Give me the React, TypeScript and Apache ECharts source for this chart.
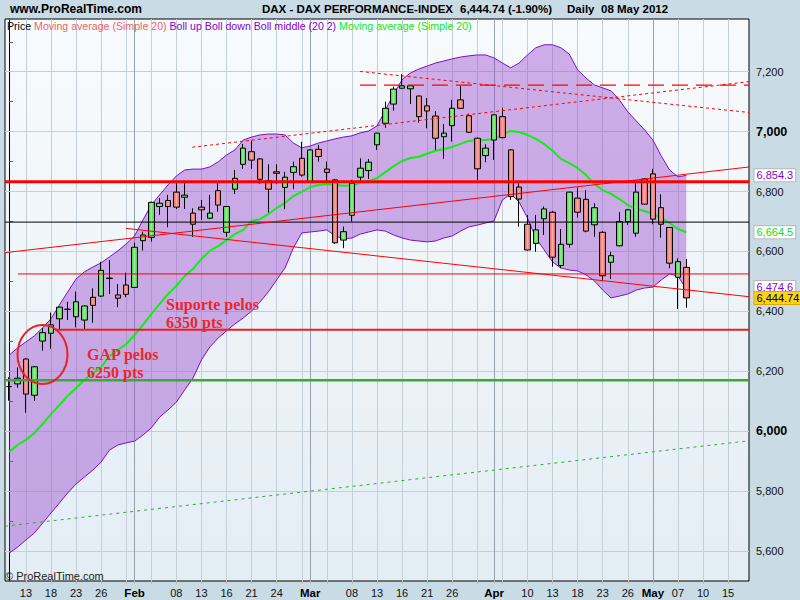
import React, { useEffect, useRef } from "react";
import * as echarts from "echarts";

// ---------- DATA ----------
const dates = [
  "2012-01-11","2012-01-12","2012-01-13","2012-01-16","2012-01-17","2012-01-18","2012-01-19","2012-01-20","2012-01-23","2012-01-24","2012-01-25","2012-01-26","2012-01-27","2012-01-30","2012-01-31",
  "2012-02-01","2012-02-02","2012-02-03","2012-02-06","2012-02-07","2012-02-08","2012-02-09","2012-02-10","2012-02-13","2012-02-14","2012-02-15","2012-02-16","2012-02-17","2012-02-20","2012-02-21","2012-02-22","2012-02-23","2012-02-24","2012-02-27","2012-02-28","2012-02-29",
  "2012-03-01","2012-03-02","2012-03-05","2012-03-06","2012-03-07","2012-03-08","2012-03-09","2012-03-12","2012-03-13","2012-03-14","2012-03-15","2012-03-16","2012-03-19","2012-03-20","2012-03-21","2012-03-22","2012-03-23","2012-03-26","2012-03-27","2012-03-28","2012-03-29","2012-03-30",
  "2012-04-02","2012-04-03","2012-04-04","2012-04-05","2012-04-10","2012-04-11","2012-04-12","2012-04-13","2012-04-16","2012-04-17","2012-04-18","2012-04-19","2012-04-20","2012-04-23","2012-04-24","2012-04-25","2012-04-26","2012-04-27","2012-04-30",
  "2012-05-02","2012-05-03","2012-05-04","2012-05-07","2012-05-08","2012-05-09","2012-05-10","2012-05-11","2012-05-14","2012-05-15","2012-05-16","2012-05-17"
];

// [open, close, low, high]
const candles = [
  [6149, 6149, 6102, 6180],[6158, 6177, 6145, 6213],[6241, 6124, 6062, 6243],[6120, 6215, 6101, 6218],[6301, 6329, 6269, 6344],
  [6327, 6355, 6275, 6396],[6375, 6414, 6338, 6416],[6407, 6407, 6371, 6432],[6382, 6432, 6347, 6466],[6371, 6418, 6340, 6420],
  [6447, 6420, 6362, 6477],[6451, 6537, 6448, 6566],[6511, 6510, 6458, 6572],[6455, 6444, 6414, 6491],[6488, 6457, 6447, 6529],
  [6480, 6614, 6478, 6629],[6636, 6655, 6603, 6666],[6647, 6764, 6633, 6766],[6750, 6761, 6722, 6778],[6770, 6750, 6681, 6789],
  [6798, 6748, 6742, 6828],[6781, 6788, 6742, 6829],[6728, 6691, 6649, 6744],[6748, 6739, 6705, 6772],[6711, 6728, 6708, 6789],
  [6803, 6755, 6733, 6828],[6664, 6750, 6649, 6752],[6808, 6844, 6792, 6872],[6891, 6945, 6876, 6959],[6933, 6905, 6876, 6970],
  [6909, 6841, 6825, 6912],[6836, 6808, 6730, 6891],[6866, 6861, 6825, 6891],[6814, 6848, 6741, 6866],[6864, 6883, 6808, 6900],
  [6911, 6855, 6850, 6966],[6833, 6939, 6830, 6941],[6941, 6917, 6900, 6956],[6875, 6864, 6833, 6900],[6839, 6629, 6625, 6842],
  [6638, 6666, 6611, 6683],[6721, 6828, 6700, 6839],[6848, 6878, 6835, 6911],[6870, 6898, 6842, 6909],[6956, 6995, 6939, 6996],
  [7028, 7078, 7013, 7100],[7092, 7142, 7070, 7150],[7145, 7153, 7143, 7192],[7143, 7153, 7092, 7155],[7119, 7050, 7030, 7120],
  [7086, 7069, 7011, 7112],[7052, 6978, 6939, 7069],[6983, 6995, 6909, 7025],[7020, 7078, 6967, 7106],[7106, 7078, 7076, 7153],
  [7053, 6998, 6995, 7060],[6978, 6876, 6839, 6980],[6920, 6945, 6898, 6958],[6972, 7056, 6906, 7057],[7050, 6980, 6978, 7080],
  [6939, 6783, 6772, 6942],[6815, 6775, 6683, 6828],[6691, 6605, 6603, 6722],[6627, 6672, 6599, 6722],[6709, 6742, 6655, 6750],
  [6731, 6581, 6549, 6735],[6553, 6624, 6544, 6675],[6624, 6798, 6613, 6800],[6778, 6731, 6713, 6813],[6774, 6668, 6664, 6805],
  [6689, 6746, 6649, 6761],[6664, 6519, 6502, 6668],[6564, 6586, 6508, 6599],[6619, 6700, 6617, 6731],[6700, 6739, 6689, 6742],
  [6661, 6798, 6649, 6828],[6842, 6758, 6755, 6845],[6859, 6708, 6691, 6876],[6746, 6691, 6646, 6791],[6680, 6561, 6544, 6682],
  [6514, 6566, 6408, 6577],[6547, 6445, 6412, 6575]
];

const bollUp = [
  6254, 6278, 6298, 6318, 6345, 6375, 6421, 6465, 6508, 6532, 6548, 6562, 6582, 6602, 6625, 6652, 6705, 6755, 6789, 6822,
  6852, 6872, 6875, 6875, 6882, 6899, 6922, 6939, 6972, 6982, 6989, 6992, 6992, 6989, 6962, 6946, 6952, 6962, 6969, 6976,
  6982, 6986, 6996, 7002, 7019, 7072, 7126, 7173, 7196, 7209, 7219, 7229, 7236, 7243, 7249, 7253, 7256, 7256, 7246, 7229,
  7213, 7229, 7256, 7280, 7290, 7290, 7280, 7259, 7206, 7179, 7156, 7146, 7136, 7106, 7066, 7036, 7006, 6972, 6919, 6872,
  6849, 6854
];

const bollDown = [
  5593, 5613, 5637, 5660, 5693, 5727, 5760, 5794, 5824, 5847, 5870, 5897, 5937, 5954, 5961, 5967, 5987, 6011, 6047, 6071,
  6097, 6138, 6178, 6238, 6281, 6311, 6335, 6358, 6378, 6401, 6431, 6465, 6505, 6545, 6612, 6662, 6665, 6668, 6672, 6652,
  6642, 6645, 6658, 6665, 6672, 6668, 6655, 6645, 6638, 6635, 6632, 6635, 6645, 6652, 6668, 6682, 6688, 6695, 6702, 6772,
  6792, 6765, 6712, 6645, 6605, 6565, 6545, 6538, 6535, 6522, 6502, 6471, 6445, 6451, 6458, 6471, 6478, 6481, 6505, 6525,
  6518, 6475
];

const ma20 = [
  5931, 5954, 5971, 5994, 6024, 6057, 6087, 6118, 6144, 6171, 6194, 6214, 6251, 6271, 6291, 6321, 6355, 6391, 6425, 6458,
  6485, 6518, 6542, 6575, 6602, 6618, 6638, 6658, 6672, 6702, 6708, 6725, 6745, 6762, 6785, 6799, 6815, 6822, 6825, 6822,
  6819, 6819, 6829, 6835, 6845, 6865, 6885, 6902, 6912, 6916, 6926, 6936, 6942, 6949, 6959, 6969, 6972, 6972, 6976, 6992,
  7002, 6999, 6989, 6976, 6959, 6936, 6909, 6895, 6879, 6855, 6825, 6805, 6792, 6775, 6755, 6742, 6735, 6725, 6712, 6695,
  6675, 6664
];

// x-axis ticks / labels
const xTickDates = ["2012-01-13","2012-01-18","2012-01-23","2012-01-26","2012-02-01","2012-02-08","2012-02-13","2012-02-16","2012-02-21","2012-02-24","2012-03-01","2012-03-08","2012-03-13","2012-03-16","2012-03-21","2012-03-26","2012-04-02","2012-04-10","2012-04-13","2012-04-18","2012-04-23","2012-04-26","2012-05-02","2012-05-07","2012-05-10","2012-05-15"];
const xTickLabels = ["13","18","23","26","Feb","08","13","16","21","24","Mar","08","13","16","21","26","Apr","10","13","18","23","26","May","07","10","15"];
const monthLabels = ["Feb","Mar","Apr","May"];
const gridDates = ["2012-01-13","2012-01-18","2012-01-23","2012-01-26","2012-01-31","2012-02-03","2012-02-08","2012-02-13","2012-02-16","2012-02-21","2012-02-24","2012-02-29","2012-03-05","2012-03-08","2012-03-13","2012-03-16","2012-03-21","2012-03-26","2012-03-29","2012-04-03","2012-04-10","2012-04-13","2012-04-18","2012-04-23","2012-04-26","2012-05-07","2012-05-10","2012-05-15"];
const monthDates = ["2012-02-01","2012-03-01","2012-04-02","2012-05-02"];

// y-axis
const yMin = 5500;
const yMax = 7376;
const yGridLevels = [5600, 5800, 6000, 6200, 6400, 6600, 6800, 7000, 7200];
const yBoldLevels = [6000, 7000];

// drawn objects: [dayIndex, price]
const resistThick = [[-0.5, 6833], [88.5, 6833]];
const pivotBlack = [[-0.5, 6698], [88.5, 6698]];
const level6525 = [[1.05, 6525], [88.5, 6525]];
const support6340 = [[5.48, 6339], [88.5, 6339]];
const level6170 = [[-0.5, 6170], [88.5, 6170]];
const greenDotted = [[-0.5, 5683], [88.5, 5968]];
const channelUp = [[-0.5, 6596], [88.5, 6882]];
const channelDown = [[13.97, 6677], [88.5, 6449]];
const upperDottedUp = [[21.9, 6948], [88.5, 7167]];
const upperDottedDown = [[41.96, 7201], [88.5, 7064]];
const dashed7155 = [[41.96, 7155], [88.5, 7155]];

// last values shown on the price scale
const tagValues = [6854.3, 6664.5, 6474.6, 6444.74];
const tagTexts = ["6,854.3", "6,664.5", "6,474.6", "6,444.74"];

// ---------- COMPONENT ----------
export default function App() {
  const ref = useRef<HTMLDivElement>(null);

  useEffect(() => {
    if (!ref.current) return;
    const chart = echarts.init(ref.current, undefined, { renderer: "svg" });
    const FONT = '"Liberation Sans", Arial, sans-serif';

    const greenFill = new echarts.graphic.LinearGradient(0, 0, 1, 0, [
      { offset: 0, color: "#43c843" },
      { offset: 0.5, color: "#8ef28e" },
      { offset: 1, color: "#43c843" },
    ]);
    const redFill = new echarts.graphic.LinearGradient(0, 0, 1, 0, [
      { offset: 0, color: "#e45e5e" },
      { offset: 0.5, color: "#f9aaa2" },
      { offset: 1, color: "#e45e5e" },
    ]);

    const vGrid = gridDates.map((d) => ({ xAxis: d, lineStyle: { color: "#c4d0d9", width: 1, type: "solid" } }));
    const vMonth = monthDates.map((d) => ({ xAxis: d, lineStyle: { color: "#95a2ad", width: 1, type: "solid" } }));
    const hGrid = yGridLevels.map((v) => ({ yAxis: v, lineStyle: { color: "#c4d0d9", width: 1, type: "solid" } }));

    const trend = (name: string, data: number[][], color: string, width: number, type: any, extra: any = {}) => ({
      name,
      type: "line",
      xAxisIndex: 1,
      yAxisIndex: 0,
      data,
      symbol: "none",
      silent: true,
      z: 6,
      lineStyle: { color, width, type },
      ...extra,
    });

    const tagStyles = [
      { color: "#8a00cc", backgroundColor: "#ffffff", borderColor: "#b8b8b8", offset: [0, 0] },
      { color: "#11e011", backgroundColor: "#ffffff", borderColor: "#b8b8b8", offset: [0, 0] },
      { color: "#8a00cc", backgroundColor: "#ffffff", borderColor: "#b8b8b8", offset: [0, -2] },
      { color: "#000000", backgroundColor: "#ffd21a", borderColor: "#e0a800", offset: [0, 0] },
    ];

    const option: any = {
      animation: false,
      backgroundColor: "#c9dbe5",
      grid: {
        left: 5,
        right: 51,
        top: 19,
        bottom: 19,
        show: true,
        borderColor: "#000",
        borderWidth: 1,
        backgroundColor: new echarts.graphic.LinearGradient(0, 0, 0, 1, [
          { offset: 0, color: "#f8fbfd" },
          { offset: 1, color: "#e3edf4" },
        ]),
      },
      xAxis: [
        {
          type: "category",
          data: dates,
          boundaryGap: true,
          axisLine: { show: false },
          axisTick: {
            show: true,
            alignWithLabel: true,
            interval: (_i: number, v: string) => gridDates.includes(v) || monthDates.includes(v),
            length: 3,
            lineStyle: { color: "#d9b48c" },
          },
          axisLabel: {
            interval: (_i: number, v: string) => xTickDates.includes(v),
            formatter: (v: string) => {
              const k = xTickDates.indexOf(v);
              if (k < 0) return "";
              const t = xTickLabels[k];
              return monthLabels.includes(t) ? `{m|${t}}` : t;
            },
            color: "#111",
            fontSize: 11,
            fontFamily: FONT,
            margin: 6,
            rich: { m: { fontWeight: "bold", fontSize: 11.5, fontFamily: FONT, color: "#000" } },
          },
          splitLine: { show: false },
        },
        { type: "value", min: -0.5, max: 88.5, show: false },
      ],
      yAxis: {
        type: "value",
        position: "right",
        min: yMin,
        max: yMax,
        interval: 100,
        axisLine: { show: true, lineStyle: { color: "#000" } },
        axisTick: { show: true, length: 4, lineStyle: { color: "#666" } },
        axisLabel: {
          color: "#111",
          fontSize: 11,
          fontFamily: FONT,
          margin: 7,
          formatter: (v: number) => {
            if (v % 200 !== 0) return "";
            const s = v.toLocaleString("en-US");
            return yBoldLevels.includes(v) ? `{b|${s}}` : s;
          },
          rich: { b: { fontWeight: "bold", fontSize: 12.5, fontFamily: FONT, color: "#000" } },
        },
        splitLine: { show: false },
      },
      series: [
        {
          name: "grid",
          type: "line",
          data: [],
          z: 1,
          silent: true,
          markLine: {
            silent: true,
            symbol: ["none", "none"],
            label: { show: false },
            z: 1,
            data: [...hGrid, ...vGrid, ...vMonth],
          },
        },
        {
          name: "Boll down",
          type: "line",
          data: bollDown,
          stack: "boll",
          symbol: "none",
          silent: true,
          z: 2,
          lineStyle: { color: "#7a10c8", width: 1 },
        },
        {
          name: "Boll up",
          type: "line",
          data: bollUp.map((u, i) => u - bollDown[i]),
          stack: "boll",
          symbol: "none",
          silent: true,
          z: 2,
          lineStyle: { color: "#7a10c8", width: 1 },
          areaStyle: { color: "rgba(150,70,205,0.43)", opacity: 1 },
        },
        {
          name: "MA20",
          type: "line",
          data: ma20,
          symbol: "none",
          silent: true,
          z: 3,
          lineStyle: { color: "#10f010", width: 2 },
        },
        {
          name: "Price",
          type: "candlestick",
          data: candles,
          barWidth: 6,
          z: 4,
          itemStyle: {
            color: greenFill,
            color0: redFill,
            borderColor: "#000",
            borderColor0: "#000",
            borderColorDoji: "#000",
            borderWidth: 1,
          },
        },
        trend("greenDotted", greenDotted, "#35a835", 1, [3, 4]),
        trend("level6170", level6170, "#3aaa35", 2.5, "solid"),
        trend("support6340", support6340, "#ee1c24", 2, "solid"),
        trend("level6525", level6525, "#ff0000", 1, "solid"),
        trend("pivotBlack", pivotBlack, "#000000", 1, "solid"),
        trend("channelDown", channelDown, "#ff0000", 1, "solid"),
        trend("channelUp", channelUp, "#ff0000", 1, "solid"),
        trend("upperDottedUp", upperDottedUp, "#ff0000", 1, [3, 3]),
        trend("upperDottedDown", upperDottedDown, "#ff0000", 1, [3, 3]),
        trend("dashed7155", dashed7155, "#ff0000", 1.2, [16, 8]),
        trend("resistThick", resistThick, "#ff0000", 3, "solid", {
          markPoint: {
            silent: true,
            z: 10,
            symbol: "rect",
            symbolSize: [1, 1],
            itemStyle: { color: "rgba(0,0,0,0)" },
            data: tagValues.map((v, i) => ({
              name: tagTexts[i],
              coord: [88.5, v],
              label: {
                show: true,
                position: "right",
                distance: 5,
                formatter: tagTexts[i],
                fontSize: 11,
                fontFamily: FONT,
                padding: [1, 2, 0, 2],
                borderWidth: 1,
                ...tagStyles[i],
              },
            })),
          },
        }),
      ],
      graphic: [
        {
          type: "text",
          x: 10,
          y: 9,
          z: 20,
          style: { text: "www.ProRealTime.com", font: `bold 12px ${FONT}`, fill: "#000", verticalAlign: "middle" },
        },
        {
          type: "text",
          x: 262,
          y: 9,
          z: 20,
          style: { text: "DAX - DAX PERFORMANCE-INDEX", font: `bold 11.5px ${FONT}`, fill: "#000", verticalAlign: "middle" },
        },
        {
          type: "text",
          x: 460,
          y: 9,
          z: 20,
          style: { text: "6,444.74 (-1.90%)", font: `bold 11.5px ${FONT}`, fill: "#000", verticalAlign: "middle" },
        },
        {
          type: "text",
          x: 567,
          y: 9,
          z: 20,
          style: { text: "Daily", font: `bold 11.5px ${FONT}`, fill: "#000", verticalAlign: "middle" },
        },
        {
          type: "text",
          x: 601,
          y: 9,
          z: 20,
          style: { text: "08 May 2012", font: `bold 11.5px ${FONT}`, fill: "#000", verticalAlign: "middle" },
        },
        {
          type: "text",
          x: 7,
          y: 26,
          z: 20,
          style: {
            text: "{k|Price} {r|Moving average (Simple 20)} {p|Boll up Boll down Boll middle (20 2)} {g|Moving average (Simple 20)}",
            font: `10.6px ${FONT}`,
            verticalAlign: "middle",
            rich: {
              k: { fill: "#000", font: `10.6px ${FONT}` },
              r: { fill: "#f06464", font: `10.6px ${FONT}` },
              p: { fill: "#8a00cc", font: `10.6px ${FONT}` },
              g: { fill: "#19e619", font: `10.6px ${FONT}` },
            },
          },
        },
        {
          type: "text",
          x: 5,
          y: 576,
          z: 20,
          style: { text: "© ProRealTime.com", font: `11px ${FONT}`, fill: "#222", verticalAlign: "middle" },
        },
        {
          type: "ellipse",
          z: 20,
          shape: { cx: 42.5, cy: 354.5, rx: 25, ry: 29.5 },
          style: { fill: "none", stroke: "#e82228", lineWidth: 2 },
        },
        {
          type: "text",
          x: 87,
          y: 354.5,
          z: 20,
          style: { text: "GAP pelos", font: `bold 16px "Liberation Serif", "Times New Roman", serif`, fill: "#e8282e", verticalAlign: "middle" },
        },
        {
          type: "text",
          x: 87,
          y: 372.5,
          z: 20,
          style: { text: "6250 pts", font: `bold 16px "Liberation Serif", "Times New Roman", serif`, fill: "#e8282e", verticalAlign: "middle" },
        },
        {
          type: "text",
          x: 166,
          y: 304.5,
          z: 20,
          style: { text: "Suporte pelos", font: `bold 16px "Liberation Serif", "Times New Roman", serif`, fill: "#e8282e", verticalAlign: "middle" },
        },
        {
          type: "text",
          x: 166,
          y: 322.5,
          z: 20,
          style: { text: "6350 pts", font: `bold 16px "Liberation Serif", "Times New Roman", serif`, fill: "#e8282e", verticalAlign: "middle" },
        },
      ],
    };

    chart.setOption(option);
    return () => chart.dispose();
  }, []);

  return (
    <div
      ref={ref}
      style={{ position: "fixed", left: 0, top: 0, width: 800, height: 600 }}
    />
  );
}
